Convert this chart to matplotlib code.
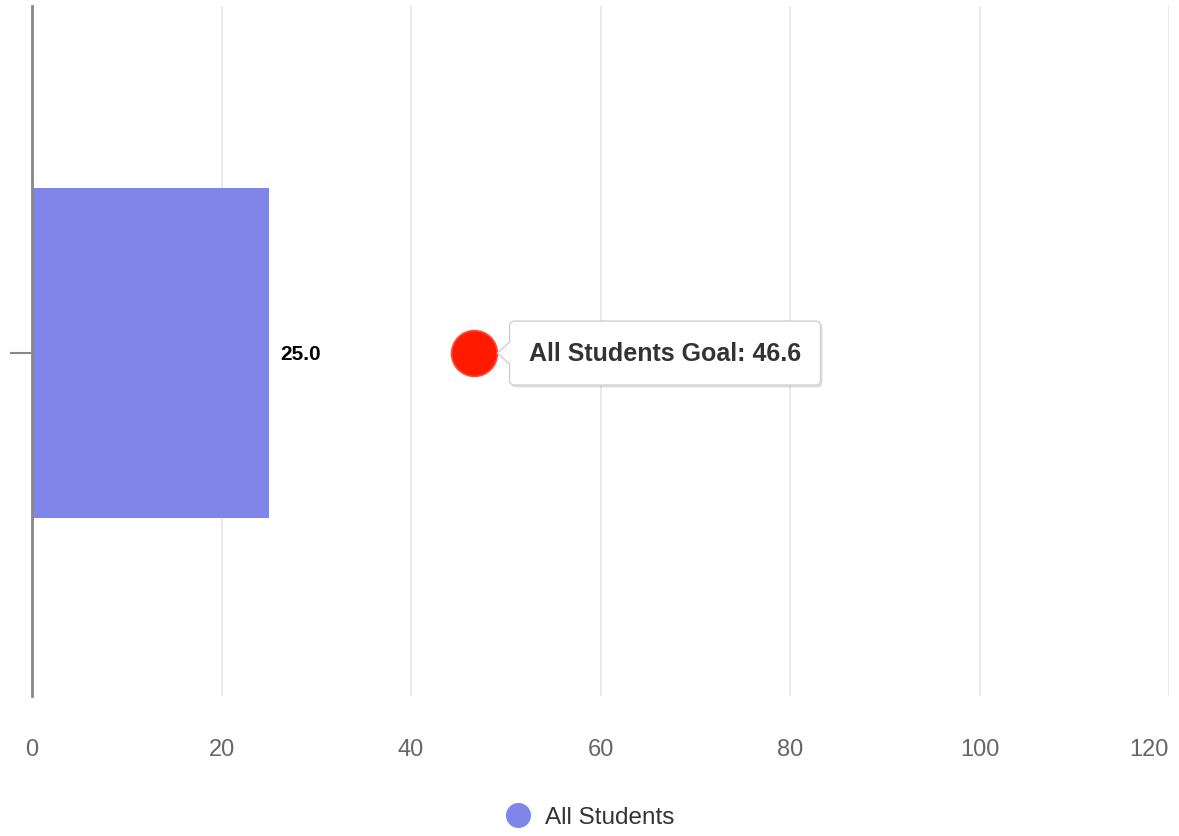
import matplotlib
matplotlib.use("Agg")
import matplotlib.pyplot as plt
import matplotlib.transforms as mtransforms
from matplotlib.patches import FancyBboxPatch, Polygon
from matplotlib.lines import Line2D

plt.rcParams['font.family'] = ['Liberation Sans', 'DejaVu Sans']

categories = [""]
series_name = "All Students"
values = [25.0]
goal_value = 46.6
goal_label = "All Students Goal"
x_ticks = [0, 20, 40, 60, 80, 100, 120]

W, H = 1179, 837
fig = plt.figure(figsize=(W / 100, H / 100), dpi=100)
ax = fig.add_axes([32 / W, 1 - 697 / H, (1169 - 32) / W, (697 - 7) / H])

bar_color = "#7f85e9"
ypos = list(range(len(categories)))
ax.barh(ypos, values, height=0.478, color=bar_color, zorder=2)
for y, v in zip(ypos, values):
    ax.annotate(f"{v:.1f}", xy=(v, y), xytext=(8, 0), textcoords="offset points",
                ha="left", va="center", fontsize=15, fontweight="bold", color="#000000")

ax.set_xlim(0, 120)
ax.set_ylim(-0.497, len(categories) - 0.497)
ax.set_xticks(x_ticks)
ax.set_xticklabels([str(t) for t in x_ticks])
ax.tick_params(axis="x", length=0, pad=30, labelsize=17, labelcolor="#666666")
ax.get_xticklabels()[-1].set_ha("right")
ax.set_yticks(ypos)
ax.set_yticklabels(categories)
ax.tick_params(axis="y", length=16, width=1.5, color="#888888")
ax.grid(axis="x", color="#e6e6e6", linewidth=1.2, zorder=0)
for s in ["top", "right", "bottom"]:
    ax.spines[s].set_visible(False)
ax.spines["left"].set_color("#888888")
ax.spines["left"].set_linewidth(2)
ax.spines["left"].set_zorder(3)

# goal marker
ax.plot([goal_value], [0], "o", markersize=33, color="#ff1a00",
        markeredgecolor="#ff4a3a", markeredgewidth=1.2, zorder=5, clip_on=False)

# tooltip anchored to the goal point, geometry in inches from the point
trans = fig.dpi_scale_trans + mtransforms.ScaledTranslation(goal_value, 0, ax.transData)
bx0, bx1, by0, by1 = 0.36, 3.47, -0.32, 0.32
shadow = FancyBboxPatch((bx0 + 0.02, by0 - 0.025), bx1 - bx0, by1 - by0,
                        boxstyle="round,pad=0,rounding_size=0.05",
                        transform=trans, fc="#000000", ec="none", alpha=0.12,
                        zorder=6, clip_on=False)
ax.add_patch(shadow)
box = FancyBboxPatch((bx0, by0), bx1 - bx0, by1 - by0,
                     boxstyle="round,pad=0,rounding_size=0.05",
                     transform=trans, fc="white", ec="#d0d0d0", lw=1,
                     zorder=7, clip_on=False)
ax.add_patch(box)
ptr = Polygon([[0.24, 0.0], [bx0 + 0.01, 0.11], [bx0 + 0.01, -0.11]], closed=True,
              transform=trans, fc="white", ec="none", zorder=8, clip_on=False)
ax.add_patch(ptr)
ax.plot([0.24, bx0], [0.0, 0.11], color="#d0d0d0", lw=1, transform=trans, zorder=8, clip_on=False)
ax.plot([0.24, bx0], [0.0, -0.11], color="#d0d0d0", lw=1, transform=trans, zorder=8, clip_on=False)
ax.text(0.55, 0.0, f"{goal_label}: {goal_value:.1f}", transform=trans, ha="left", va="center",
        fontsize=18, fontweight="bold", color="#333333", zorder=9)

handle = Line2D([], [], marker="o", linestyle="none", markersize=17,
                markerfacecolor=bar_color, markeredgecolor=bar_color)
fig.legend([handle], [series_name], loc="center", bbox_to_anchor=(590 / W, 1 - 818 / H),
           frameon=False, fontsize=17.5, labelcolor="#333333", handletextpad=0.6,
           handlelength=1.0)

fig.savefig("out.png", dpi=100)
